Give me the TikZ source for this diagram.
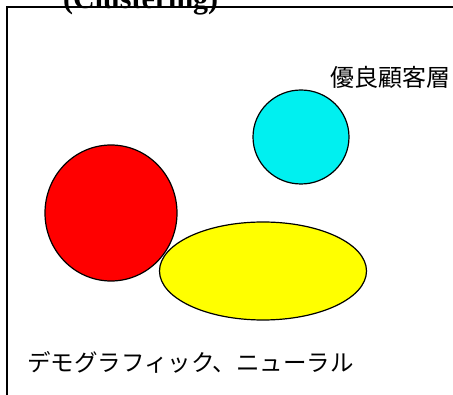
\documentclass[tikz,border=0pt]{standalone}
\usepackage{fontspec}
\setmainfont{Liberation Serif}
\newfontfamily\jpfont{Noto Sans CJK JP}
\definecolor{cred}{RGB}{255,0,0}
\definecolor{cyel}{RGB}{255,255,0}
\definecolor{ccyan}{RGB}{0,240,240}
\begin{document}
\begin{tikzpicture}[x=1pt,y=-1pt,
  blob/.style={draw=black,line width=1.2pt},
  jlabel/.style={font=\jpfont, inner sep=0pt, anchor=west}]
\useasboundingbox (0,0) rectangle (453,395);
\begin{scope}
\clip (0,0) rectangle (453,395);
\node[font=\bfseries\fontsize{30}{30}\selectfont, inner sep=0pt, anchor=base west] (title) at (63,8.5) {(Clustering)};
\draw[line width=1.2pt] (7,460) -- (7,7) -- (470,7);
\end{scope}
\path[blob, fill=cred] (111,213) ellipse [x radius=66, y radius=68] node (red) {};
\path[blob, fill=cyel] (263,271) ellipse [x radius=103.5, y radius=49] node (yellow) {};
\path[blob, fill=ccyan] (301,137) ellipse [x radius=48, y radius=47] node (cyan) {};
\node[jlabel, font=\jpfont\fontsize{24}{24}\selectfont] (good) at (330,77) {優良顧客層};
\node[jlabel, font=\jpfont\fontsize{23.5}{23.5}\selectfont] (demo) at (27,362) {デモグラフィック、ニューラル};
\end{tikzpicture}
\end{document}
